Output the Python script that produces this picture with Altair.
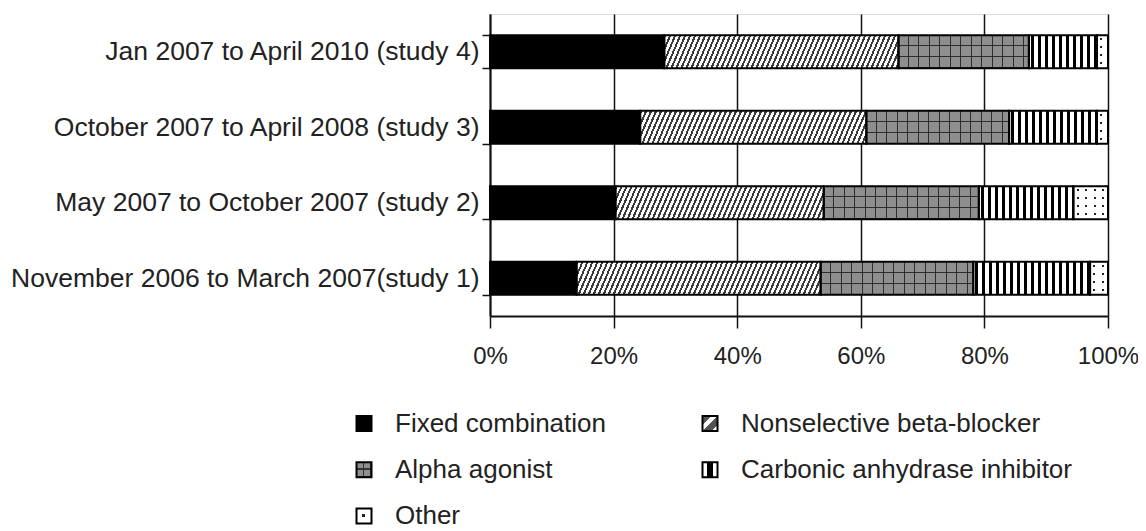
import math
import altair as alt
import pandas as pd

# ---------------- data ----------------
studies = [
    "Jan 2007 to April 2010 (study 4)",
    "October 2007 to April 2008 (study 3)",
    "May 2007 to October 2007 (study 2)",
    "November 2006 to March 2007(study 1)",
]
categories = [
    "Fixed combination",
    "Nonselective beta-blocker",
    "Alpha agonist",
    "Carbonic anhydrase inhibitor",
    "Other",
]
fixed = [28.2, 24.3, 20.3, 14.0]
nsbb = [37.9, 36.6, 33.7, 39.5]
alpha = [21.1, 23.1, 25.1, 24.7]
cai = [11.0, 14.2, 15.3, 18.9]
other = [1.8, 1.8, 5.6, 2.9]
x_ticks = [0, 0.2, 0.4, 0.6, 0.8, 1.0]
legend_rows = [0, 0, 1, 1, 2]
legend_cols = [0, 1, 0, 1, 0]

series = [fixed, nsbb, alpha, cai, other]
rows = []
for ci, (cat, vals) in enumerate(zip(categories, series)):
    for si, s in enumerate(studies):
        rows.append({"study": s, "cat": cat, "order": ci, "value": vals[si]})
df = pd.DataFrame(rows)
leg_df = pd.DataFrame({"cat": categories, "row": legend_rows, "col": legend_cols})

# ---------------- style ----------------
FONT = "Liberation Sans"
TXT = "#222222"
PLOT_W, PLOT_H = 618, 302
BAR_H = 33
CLEAR_BLACK = "rgba(0,0,0,0)"
CLEAR_WHITE = "rgba(255,255,255,0)"


def periodic(n_periods, pieces, x2, y2):
    stops = []
    n_periods = max(n_periods, 0.5)
    for k in range(math.ceil(n_periods)):
        cum = 0.0
        for color, frac in pieces:
            a = (k + cum) / n_periods
            b = (k + cum + frac) / n_periods
            cum += frac
            if a >= 1:
                break
            b = min(b, 1.0)
            stops.append({"offset": round(a, 5), "color": color})
            stops.append({"offset": round(b, 5), "color": color})
    return {"gradient": "linear", "x1": 0, "y1": 0, "x2": x2, "y2": y2, "stops": stops}


def hatch(width, period=5.0, lean=14.0):
    r = lean / width
    k = (1 + r) / (1 + r * r)
    n = width * (1 + r) / period
    return periodic(n, [("#3a3a3a", 0.42), ("white", 0.58)], k, k * r)


x_scale = alt.Scale(domain=[0, 1], nice=False, zero=True)
y_scale = alt.Scale(domain=studies, paddingInner=0.563, paddingOuter=0.2815)
x_axis = alt.Axis(
    values=x_ticks, format=".0%", title=None, grid=True, gridColor="#111111",
    gridWidth=1.5, tickColor="#111111", tickSize=12, tickWidth=1.5,
    domainColor="#111111", domainWidth=2, labelFont=FONT, labelFontSize=24,
    labelColor=TXT, labelPadding=16, labelFlush=False, labelOverlap=False,
)
y_axis = alt.Axis(
    title=None, labelFont=FONT, labelFontSize=26.5, labelColor=TXT,
    labelLimit=700, labelPadding=3, tickBand="extent", tickSize=8,
    tickColor="#111111", tickWidth=1.5, domainColor="#111111", domainWidth=2,
    grid=False,
)


def seg_enc(ch):
    return ch.encode(
        x=alt.X("x0:Q", scale=x_scale, axis=x_axis),
        x2="x1:Q",
        y=alt.Y("study:N", scale=y_scale, axis=y_axis, sort=studies),
    )


bar_layers = []
for si, s in enumerate(studies):
    total = sum(v[si] for v in series)
    for ci, cat in enumerate(categories):
        w = series[ci][si] / total * PLOT_W
        flt = (alt.datum.study == s) & (alt.datum.cat == cat)
        fills = []
        if ci == 0:
            fills = ["black"]
        elif ci == 1:
            fills = [hatch(w)]
        elif ci == 2:
            fills = [
                periodic(w / 10.5, [("#8e8e8e", 0.9), ("#2e2e2e", 0.1)], 1, 0),
                periodic(3, [(CLEAR_BLACK, 0.91), ("#2e2e2e", 0.09)], 0, 1),
            ]
        elif ci == 3:
            fills = [periodic(w / 7.0, [("white", 0.28), ("black", 0.46), ("white", 0.26)], 1, 0)]
        else:
            fills = [
                periodic(w / 8.5, [("white", 0.38), ("#222222", 0.24), ("white", 0.38)], 1, 0),
                periodic(BAR_H / 8.0, [("white", 0.38), (CLEAR_WHITE, 0.24), ("white", 0.38)], 0, 1),
            ]
        for f in fills:
            bar_layers.append(
                seg_enc(alt.Chart().mark_bar(fill=f, strokeWidth=0, cornerRadius=0)).transform_filter(flt)
            )

outline = seg_enc(alt.Chart().mark_bar(fillOpacity=0, stroke="black", strokeWidth=2))
bar_layers.append(outline)

bars = alt.layer(*bar_layers, data=df).transform_stack(
    stack="value",
    groupby=["study"],
    as_=["x0", "x1"],
    offset="normalize",
    sort=[alt.SortField("order", order="ascending")],
)

# ---------------- legend ----------------
lx = alt.X("col:Q", scale=alt.Scale(domain=[0, 1], range=[-126, 220]), axis=None)
ly = alt.Y("row:Q", scale=alt.Scale(domain=[0, 2], range=[409.5, 502]), axis=None)

swatch_fills = {
    0: ["black"],
    1: [periodic(2, [("#555555", 0.6), ("white", 0.4)], 1, 1)],
    2: [
        periodic(2, [("#8e8e8e", 0.82), ("#333333", 0.18)], 1, 0),
        periodic(2, [(CLEAR_BLACK, 0.82), ("#333333", 0.18)], 0, 1),
    ],
    3: [periodic(1, [("white", 0.3), ("black", 0.4), ("white", 0.3)], 1, 0)],
    4: [
        periodic(1, [("white", 0.4), ("#222222", 0.2), ("white", 0.4)], 1, 0),
        periodic(1, [("white", 0.4), (CLEAR_WHITE, 0.2), ("white", 0.4)], 0, 1),
    ],
}

leg_layers = []
for ci, cat in enumerate(categories):
    fl = swatch_fills[ci]
    for j, f in enumerate(fl):
        last = j == len(fl) - 1
        leg_layers.append(
            alt.Chart()
            .mark_square(size=225, fill=f, fillOpacity=1, opacity=1,
                         stroke="black" if last else None, strokeWidth=2 if last else 0)
            .encode(x=lx, y=ly)
            .transform_filter(alt.datum.cat == cat)
        )

leg_text = (
    alt.Chart()
    .mark_text(align="left", baseline="middle", dx=31, font=FONT, fontSize=26, color=TXT)
    .encode(x=lx, y=ly, text="cat:N")
)
leg_layers.append(leg_text)

legend = alt.layer(*leg_layers, data=leg_df)

chart = (
    alt.layer(bars, legend)
    .resolve_scale(x="independent", y="independent")
    .properties(
        width=PLOT_W,
        height=PLOT_H,
        autosize=alt.AutoSizeParams(type="none"),
        padding={"left": 482, "top": 6, "right": 30, "bottom": 215},
    )
    .configure_view(stroke=None)
    .configure(background="white")
)

chart.save("out.html", embed_options={"renderer": "svg", "actions": False})
